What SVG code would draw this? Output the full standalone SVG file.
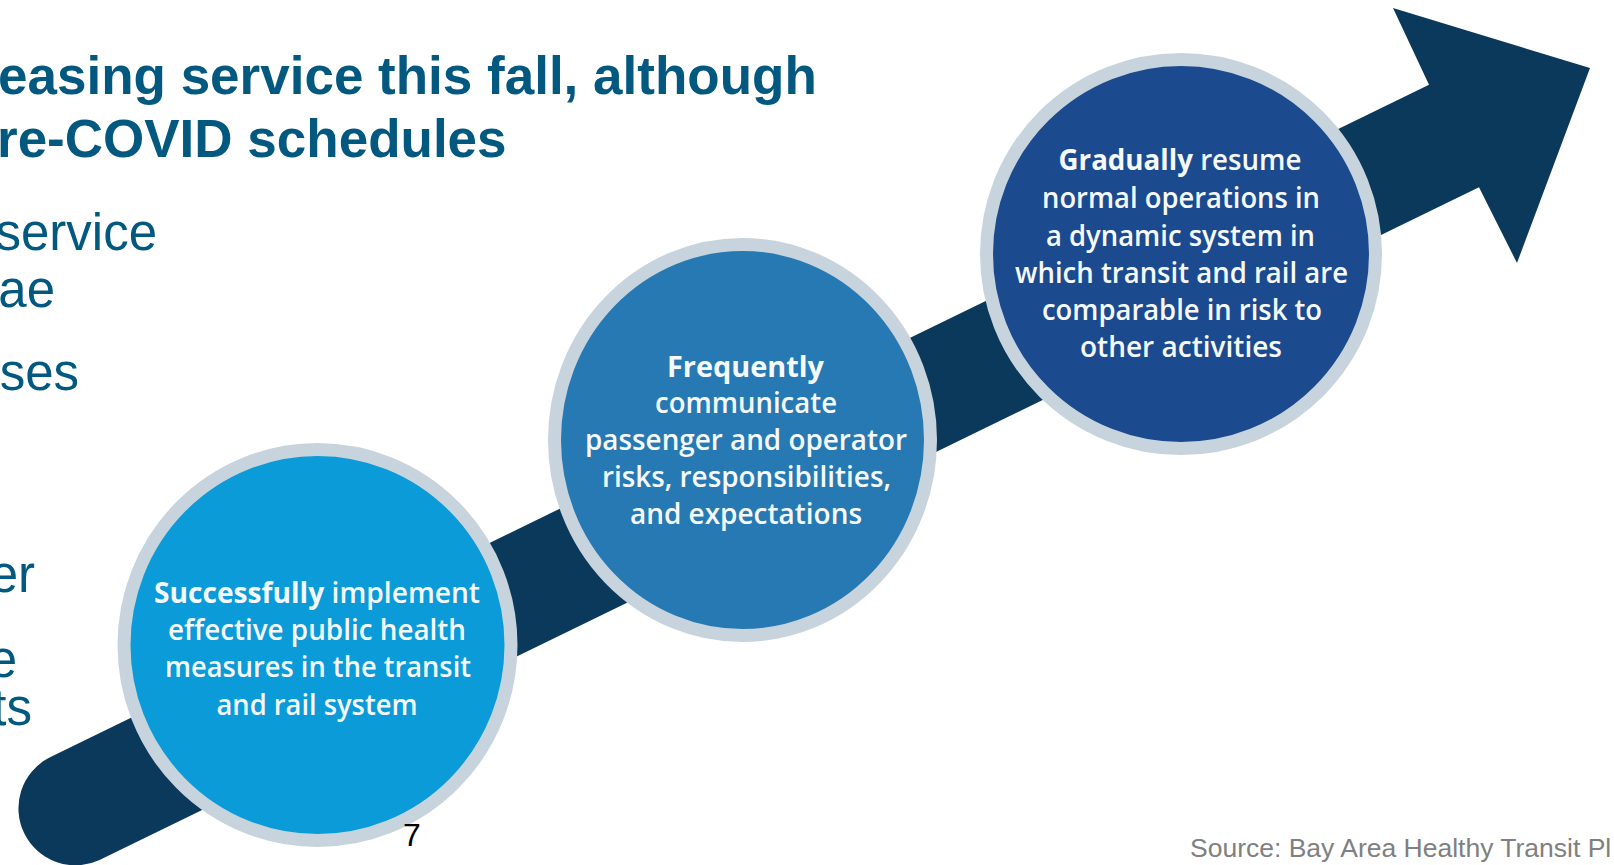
<svg xmlns="http://www.w3.org/2000/svg" width="1614" height="865" viewBox="0 0 1614 865">
<style>
.title{font-family:"Liberation Sans",Arial,sans-serif;font-weight:700;font-size:53px;fill:#02587f}
.body{font-family:"Liberation Sans",Arial,sans-serif;font-size:51px;fill:#02587f}
.ring{stroke:#c7d4dd;stroke-width:13}
.ct{font-family:"Open Sans","Noto Sans",sans-serif;font-weight:600;font-size:28px;fill:#f6f9fb;text-anchor:middle}
.ct .b{font-weight:700}
.pg{font-family:"Liberation Sans",Arial,sans-serif;font-size:32px;fill:#000}
.src{font-family:"Liberation Sans",Arial,sans-serif;font-size:26.5px;fill:#808080}
</style>
<rect width="1614" height="865" fill="#ffffff"/>
<g id="title">
<text class="title" x="-2" y="94">easing service this fall, although</text>
<text class="title" x="-3" y="157">re-COVID schedules</text>
</g>
<g id="body-text" text-anchor="end">
<text class="body" x="157" y="250">service</text>
<text class="body" x="55" y="307">ae</text>
<text class="body" x="79" y="390">ses</text>
<text class="body" x="35" y="592">er</text>
<text class="body" x="17" y="677">e</text>
<text class="body" x="32" y="725">ts</text>
</g>
<g id="connectors">
<path id="arrow" fill="#0b395c" d="M49,757.8 L1429,84.8 L1393,8 L1590,68 L1517,263 L1479,187.2 L99,860.2 A57,57 0 0 1 49,757.8 Z"/>
</g>
<g id="node-1">
<ellipse class="ring" cx="317.5" cy="645" rx="193.5" ry="195.5" fill="#0a9bd8"/>
<text class="ct" x="317" y="603" textLength="326" lengthAdjust="spacingAndGlyphs"><tspan class="b">Successfully</tspan> implement</text>
<text class="ct" x="317" y="640" textLength="298" lengthAdjust="spacingAndGlyphs">effective public health</text>
<text class="ct" x="318" y="677" textLength="306" lengthAdjust="spacingAndGlyphs">measures in the transit</text>
<text class="ct" x="317" y="715" textLength="201" lengthAdjust="spacingAndGlyphs">and rail system</text>
</g>
<g id="node-2">
<ellipse class="ring" cx="742.5" cy="440" rx="188" ry="195.5" fill="#2679b3"/>
<text class="ct" x="745.5" y="377" textLength="157" lengthAdjust="spacingAndGlyphs"><tspan class="b">Frequently</tspan></text>
<text class="ct" x="746" y="413" textLength="182" lengthAdjust="spacingAndGlyphs">communicate</text>
<text class="ct" x="746" y="450" textLength="322" lengthAdjust="spacingAndGlyphs">passenger and operator</text>
<text class="ct" x="746.5" y="487" textLength="289" lengthAdjust="spacingAndGlyphs">risks, responsibilities,</text>
<text class="ct" x="746" y="524" textLength="232" lengthAdjust="spacingAndGlyphs">and expectations</text>
</g>
<g id="node-3">
<ellipse class="ring" cx="1181" cy="254" rx="194.5" ry="194.5" fill="#1b4a8e"/>
<text class="ct" x="1180" y="170" textLength="243" lengthAdjust="spacingAndGlyphs"><tspan class="b">Gradually</tspan> resume</text>
<text class="ct" x="1181" y="208" textLength="278" lengthAdjust="spacingAndGlyphs">normal operations in</text>
<text class="ct" x="1180.5" y="246" textLength="269" lengthAdjust="spacingAndGlyphs">a dynamic system in</text>
<text class="ct" x="1181.5" y="283" textLength="333" lengthAdjust="spacingAndGlyphs">which transit and rail are</text>
<text class="ct" x="1182" y="320" textLength="280" lengthAdjust="spacingAndGlyphs">comparable in risk to</text>
<text class="ct" x="1181" y="357" textLength="202" lengthAdjust="spacingAndGlyphs">other activities</text>
</g>
<g id="footer">
<text class="pg" x="403" y="846">7</text>
<text class="src" x="1190" y="857">Source: Bay Area Healthy Transit Pl</text>
</g>
</svg>
